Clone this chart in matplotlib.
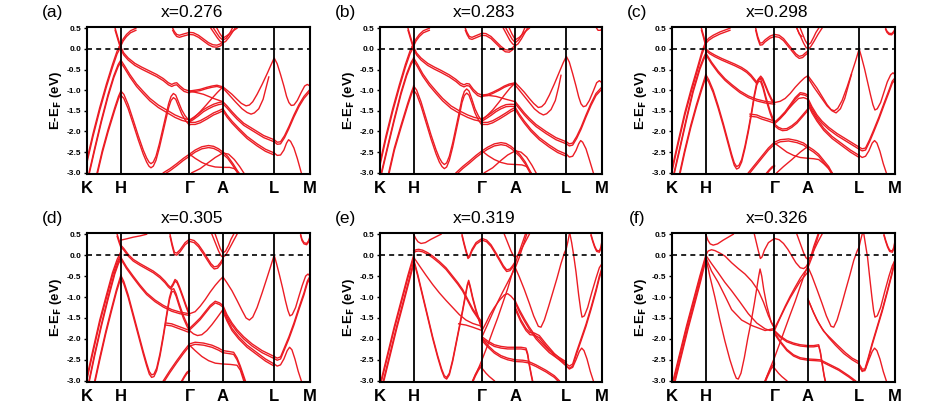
import matplotlib
matplotlib.use("Agg")
import matplotlib.pyplot as plt

plt.rcParams['font.family'] = ['Liberation Sans', 'DejaVu Sans']

# k-path positions (arbitrary path units) and labels
KPATH = [22, 123, 328, 428, 581, 688]
KLABELS = ["K", "H", "Γ", "A", "L", "M"]
TITLES = ["x=0.276", "x=0.283", "x=0.298", "x=0.305", "x=0.319", "x=0.326"]
LETTERS = ["(a)", "(b)", "(c)", "(d)", "(e)", "(f)"]
YTICKS = [0.5, 0.0, -0.5, -1.0, -1.5, -2.0, -2.5, -3.0]

# bands: (splitting in eV, [(k, E), ...])
BANDS_A = [
    (0.07, [(22, -2.68), (40, -2.05), (60, -1.42), (80, -0.85), (98, -0.38), (112, -0.05), (123, 0.12)]),
    (0.05, [(118, 0.05), (123, 0.12), (130, 0.24), (140, 0.35), (152, 0.44), (168, 0.5)]),
    (0.05, [(106, 0.5), (114, 0.28), (123, 0.04), (132, -0.1), (145, -0.22), (165, -0.35), (185, -0.44), (205, -0.52),
            (230, -0.62), (250, -0.72), (265, -0.82), (275, -0.86), (283, -0.83), (290, -0.82), (300, -0.9), (312, -0.98), (328, -1.02)]),
    (0.05, [(28, -3.0), (45, -2.4), (65, -1.72), (85, -1.1), (102, -0.65), (115, -0.38), (123, -0.27)]),
    (0.06, [(123, -0.27), (135, -0.42), (150, -0.62), (170, -0.85), (190, -1.03), (210, -1.2), (235, -1.36), (260, -1.48),
            (285, -1.6), (305, -1.67), (328, -1.72)]),
    (0.06, [(52, -3.0), (68, -2.45), (85, -1.95), (105, -1.42), (116, -1.15), (123, -1.02)]),
    (0.1, [(123, -1.02), (132, -1.1), (145, -1.35), (160, -1.72), (175, -2.1), (190, -2.45), (200, -2.64), (207, -2.74),
           (213, -2.78), (220, -2.74), (228, -2.6), (238, -2.3), (248, -1.95), (258, -1.6), (266, -1.32), (273, -1.15),
           (280, -1.08), (287, -1.12), (295, -1.28), (305, -1.48), (315, -1.62), (328, -1.75)]),
    (0.05, [(278, 0.5), (283, 0.42), (290, 0.35), (298, 0.33), (310, 0.36), (328, 0.4), (340, 0.39), (355, 0.33),
            (370, 0.24), (385, 0.15), (398, 0.1), (410, 0.09), (420, 0.12), (428, 0.17)]),
    (0.0, [(392, 0.5), (402, 0.38), (412, 0.26), (420, 0.18), (428, 0.15), (436, 0.18), (446, 0.28), (456, 0.4), (464, 0.5)]),
    (0.0, [(400, 0.5), (408, 0.4), (418, 0.28), (428, 0.21), (438, 0.26), (447, 0.36), (456, 0.5)]),
    (0.0, [(410, 0.5), (418, 0.38), (428, 0.26), (440, 0.32), (455, 0.42), (470, 0.5)]),
    (0.03, [(328, -1.02), (345, -1.0), (360, -0.98), (380, -0.93), (395, -0.9), (410, -0.88), (428, -0.92)]),
    (0.0, [(328, -1.02), (350, -1.06), (370, -1.1), (400, -1.2), (428, -1.28)]),
    (0.05, [(328, -1.72), (340, -1.66), (355, -1.57), (370, -1.47), (385, -1.4), (400, -1.34), (415, -1.3), (428, -1.28)]),
    (0.0, [(328, -1.75), (345, -1.64), (360, -1.52), (378, -1.36), (395, -1.2), (412, -1.05), (428, -0.92)]),
    (0.05, [(328, -1.78), (345, -1.78), (360, -1.74), (380, -1.65), (400, -1.55), (415, -1.5), (428, -1.45)]),
    (0.0, [(428, -0.92), (440, -1.0), (455, -1.1), (470, -1.22), (483, -1.32), (497, -1.38), (507, -1.36), (517, -1.28),
           (530, -1.1), (545, -0.86), (560, -0.6), (572, -0.38), (581, -0.22), (590, -0.36), (600, -0.62), (610, -0.9),
           (618, -1.15), (625, -1.3), (632, -1.37), (640, -1.36), (650, -1.25), (662, -1.05), (672, -0.9), (680, -0.86), (688, -0.9)]),
    (0.0, [(428, -0.95), (445, -1.1), (465, -1.28), (485, -1.45), (500, -1.54), (512, -1.58), (522, -1.55), (535, -1.45),
           (548, -1.22), (558, -0.9), (565, -0.68)]),
    (0.05, [(428, -1.28), (440, -1.38), (455, -1.52), (470, -1.65), (490, -1.8), (520, -1.95), (550, -2.1), (581, -2.2)]),
    (0.05, [(428, -1.45), (440, -1.6), (455, -1.75), (475, -1.92), (500, -2.12), (530, -2.3), (555, -2.43), (581, -2.52)]),
    (0.05, [(581, -2.2), (590, -2.26), (600, -2.25), (612, -2.1), (625, -1.88), (640, -1.6), (655, -1.35), (670, -1.15),
            (688, -0.98)]),
    (0.0, [(581, -2.52), (590, -2.58), (600, -2.57), (610, -2.45), (618, -2.28), (624, -2.2), (630, -2.24), (640, -2.4),
           (650, -2.65), (662, -3.0)]),
    (0.05, [(250, -3.0), (270, -2.9), (290, -2.78), (310, -2.65), (328, -2.55), (345, -2.45), (365, -2.37), (385, -2.34),
            (400, -2.36), (415, -2.42), (428, -2.5), (442, -2.6), (458, -2.78), (475, -3.0)]),
    (0.0, [(328, -2.55), (345, -2.65), (365, -2.75), (385, -2.82), (405, -2.86), (428, -2.87), (448, -2.87), (462, -2.9),
           (475, -3.0)]),
    (0.0, [(335, -3.0), (360, -2.9), (385, -2.75), (405, -2.63), (428, -2.52), (445, -2.55), (462, -2.68), (478, -2.85),
           (490, -3.0)]),
]

BANDS_B = [
    (0.07, [(22, -2.75), (40, -2.1), (60, -1.45), (80, -0.87), (98, -0.38), (112, -0.05), (123, 0.12)]),
    (0.05, [(118, 0.05), (123, 0.12), (130, 0.24), (140, 0.35), (152, 0.44), (170, 0.5)]),
    (0.05, [(106, 0.5), (114, 0.28), (123, 0.04), (132, -0.1), (145, -0.22), (165, -0.35), (185, -0.44), (205, -0.52),
            (230, -0.63), (250, -0.74), (263, -0.83), (274, -0.87), (282, -0.84), (290, -0.85), (302, -0.98), (315, -1.08),
            (328, -1.12)]),
    (0.05, [(26, -3.0), (45, -2.35), (65, -1.68), (85, -1.05), (102, -0.6), (115, -0.33), (123, -0.22)]),
    (0.06, [(123, -0.22), (135, -0.38), (150, -0.6), (170, -0.83), (190, -1.02), (210, -1.2), (235, -1.38), (260, -1.5),
            (285, -1.6), (305, -1.66), (328, -1.7)]),
    (0.06, [(48, -3.0), (65, -2.4), (85, -1.85), (105, -1.32), (116, -1.05), (123, -0.9)]),
    (0.1, [(123, -0.9), (132, -1.0), (145, -1.28), (160, -1.68), (175, -2.08), (190, -2.44), (200, -2.64), (208, -2.75),
           (215, -2.8), (222, -2.76), (230, -2.6), (240, -2.28), (250, -1.9), (260, -1.52), (268, -1.2), (275, -1.03),
           (282, -0.97), (289, -1.02), (297, -1.2), (307, -1.45), (317, -1.62), (328, -1.75)]),
    (0.05, [(278, 0.5), (283, 0.4), (290, 0.3), (298, 0.28), (310, 0.32), (328, 0.38), (340, 0.37), (355, 0.3),
            (370, 0.18), (385, 0.06), (398, -0.02), (410, -0.03), (420, 0.03), (428, 0.1)]),
    (0.0, [(392, 0.5), (402, 0.35), (412, 0.2), (420, 0.12), (428, 0.08), (436, 0.12), (446, 0.24), (456, 0.38), (464, 0.5)]),
    (0.0, [(400, 0.5), (408, 0.38), (418, 0.24), (428, 0.15), (438, 0.22), (447, 0.33), (456, 0.5)]),
    (0.0, [(410, 0.5), (418, 0.36), (428, 0.22), (440, 0.28), (455, 0.4), (470, 0.5)]),
    (0.03, [(328, -1.12), (345, -1.1), (360, -1.05), (380, -0.97), (395, -0.9), (410, -0.85), (428, -0.82)]),
    (0.0, [(328, -1.12), (350, -1.13), (370, -1.15), (400, -1.22), (428, -1.28)]),
    (0.05, [(328, -1.7), (340, -1.64), (355, -1.56), (370, -1.47), (385, -1.4), (400, -1.35), (415, -1.34), (428, -1.35)]),
    (0.0, [(328, -1.72), (345, -1.6), (360, -1.48), (378, -1.3), (395, -1.12), (412, -0.95), (428, -0.82)]),
    (0.05, [(328, -1.78), (345, -1.78), (360, -1.74), (380, -1.65), (400, -1.55), (415, -1.47), (428, -1.42)]),
    (0.0, [(428, -0.82), (440, -0.92), (455, -1.05), (470, -1.2), (483, -1.32), (497, -1.42), (507, -1.4), (517, -1.32),
           (530, -1.12), (545, -0.85), (560, -0.56), (572, -0.33), (581, -0.18), (590, -0.32), (600, -0.6), (610, -0.9),
           (618, -1.16), (625, -1.33), (632, -1.4), (640, -1.38), (650, -1.25), (662, -1.02), (672, -0.82), (680, -0.77), (688, -0.82)]),
    (0.0, [(428, -0.88), (445, -1.05), (465, -1.25), (485, -1.45), (500, -1.55), (512, -1.6), (522, -1.57), (535, -1.47),
           (548, -1.25), (558, -0.92), (565, -0.64)]),
    (0.05, [(428, -1.28), (440, -1.4), (455, -1.55), (470, -1.68), (490, -1.83), (520, -2.0), (550, -2.15), (581, -2.25)]),
    (0.05, [(428, -1.42), (440, -1.58), (455, -1.75), (475, -1.95), (500, -2.15), (530, -2.33), (555, -2.46), (581, -2.55)]),
    (0.05, [(581, -2.25), (590, -2.3), (600, -2.28), (612, -2.12), (625, -1.9), (640, -1.6), (655, -1.32), (670, -1.08),
            (688, -0.92)]),
    (0.0, [(581, -2.55), (590, -2.62), (600, -2.6), (610, -2.46), (618, -2.3), (624, -2.22), (630, -2.26), (640, -2.42),
           (650, -2.68), (662, -3.0)]),
    (0.0, [(672, 0.5), (676, 0.45), (684, 0.45), (688, 0.5)]),
    (0.05, [(250, -3.0), (270, -2.85), (290, -2.72), (310, -2.58), (328, -2.47), (345, -2.38), (365, -2.3), (385, -2.27),
            (400, -2.29), (415, -2.36), (428, -2.45), (442, -2.56), (458, -2.74), (475, -3.0)]),
    (0.0, [(328, -2.47), (345, -2.58), (365, -2.68), (385, -2.75), (405, -2.79), (428, -2.8), (448, -2.81), (462, -2.85),
           (475, -3.0)]),
    (0.0, [(335, -3.0), (360, -2.88), (385, -2.7), (405, -2.57), (428, -2.47), (445, -2.5), (462, -2.62), (478, -2.82),
           (490, -3.0)]),
]

BANDS_C = [
    (0.07, [(22, -2.9), (40, -2.25), (60, -1.55), (80, -0.95), (98, -0.45), (112, -0.05), (123, 0.18)]),
    (0.05, [(123, 0.18), (132, 0.26), (145, 0.33), (165, 0.41), (195, 0.5)]),
    (0.05, [(110, 0.5), (117, 0.3), (123, 0.1)]),
    (0.04, [(123, 0.0), (135, -0.08), (150, -0.15), (170, -0.23), (190, -0.3), (210, -0.37), (230, -0.45), (245, -0.53),
            (258, -0.63), (268, -0.73), (275, -0.8), (281, -0.72), (287, -0.66), (293, -0.72), (300, -0.85), (310, -1.05),
            (320, -1.22), (328, -1.3)]),
    (0.05, [(28, -3.0), (45, -2.4), (65, -1.68), (85, -1.0), (105, -0.45), (116, -0.22), (123, -0.1)]),
    (0.04, [(123, -0.1), (140, -0.32), (160, -0.54), (180, -0.72), (200, -0.86), (225, -1.02), (250, -1.14), (275, -1.22),
            (300, -1.27), (328, -1.3)]),
    (0.06, [(45, -3.0), (60, -2.45), (78, -1.85), (95, -1.35), (110, -0.95), (123, -0.62)]),
    (0.06, [(123, -0.62), (132, -0.75), (145, -1.0), (160, -1.38), (175, -1.8), (190, -2.25), (200, -2.55), (208, -2.76),
            (215, -2.85), (222, -2.82), (230, -2.68), (240, -2.35), (250, -1.95), (260, -1.5), (268, -1.1), (275, -0.82),
            (281, -0.72), (287, -0.74), (294, -0.9), (303, -1.18), (315, -1.5), (328, -1.78)]),
    (0.05, [(255, -1.58), (275, -1.6), (290, -1.65), (310, -1.7), (328, -1.75)]),
    (0.05, [(272, 0.5), (278, 0.3), (285, 0.14), (292, 0.15), (300, 0.22), (315, 0.31), (328, 0.35), (342, 0.33),
            (355, 0.25), (368, 0.12), (380, 0.0), (392, -0.12), (402, -0.18), (412, -0.16), (420, -0.1), (428, -0.05)]),
    (0.0, [(395, 0.5), (405, 0.32), (415, 0.14), (422, 0.04), (428, 0.0), (436, 0.05), (446, 0.18), (458, 0.35), (470, 0.5)]),
    (0.0, [(405, 0.5), (412, 0.36), (420, 0.2), (428, 0.1), (436, 0.14), (445, 0.28), (452, 0.4), (460, 0.5)]),
    (0.0, [(395, 0.5), (402, 0.36), (410, 0.3)]),
    (0.0, [(328, -1.3), (345, -1.27), (360, -1.2), (375, -1.08), (390, -0.93), (405, -0.8), (418, -0.7), (428, -0.65)]),
    (0.04, [(328, -1.78), (345, -1.65), (360, -1.52), (375, -1.35), (390, -1.18), (405, -1.06), (418, -1.08), (428, -1.12)]),
    (0.0, [(328, -1.78), (345, -1.68), (365, -1.5), (385, -1.32), (400, -1.2), (415, -1.18), (428, -1.22)]),
    (0.04, [(328, -1.82), (340, -1.9), (352, -1.94), (365, -1.93), (380, -1.86), (395, -1.76), (410, -1.62), (428, -1.45)]),
    (0.0, [(428, -0.65), (440, -0.78), (455, -0.95), (470, -1.15), (485, -1.35), (497, -1.47), (507, -1.5), (517, -1.44),
           (530, -1.25), (545, -0.92), (558, -0.6), (570, -0.3), (581, 0.0), (588, -0.2), (597, -0.48), (606, -0.8),
           (615, -1.12), (622, -1.35), (628, -1.48), (635, -1.45), (645, -1.3), (655, -1.05), (665, -0.8), (675, -0.63),
           (682, -0.58), (688, -0.62)]),
    (0.0, [(428, -0.7), (445, -0.92), (465, -1.15), (485, -1.38), (500, -1.5), (512, -1.55), (525, -1.45), (538, -1.2),
           (550, -0.85), (558, -0.62)]),
    (0.05, [(428, -1.2), (440, -1.4), (455, -1.6), (470, -1.75), (490, -1.9), (515, -2.05), (545, -2.2), (581, -2.38)]),
    (0.05, [(428, -1.3), (440, -1.5), (455, -1.7), (475, -1.92), (500, -2.12), (530, -2.3), (555, -2.45), (581, -2.58)]),
    (0.05, [(581, -2.38), (590, -2.42), (600, -2.4), (612, -2.2), (625, -1.95), (640, -1.65), (655, -1.32), (670, -1.0),
            (680, -0.78), (688, -0.7)]),
    (0.0, [(581, -2.58), (590, -2.63), (600, -2.6), (610, -2.47), (620, -2.28), (627, -2.22), (634, -2.28), (643, -2.48),
           (653, -2.78), (662, -3.0)]),
    (0.03, [(660, 0.5), (664, 0.43), (670, 0.38), (678, 0.37), (684, 0.42), (688, 0.48)]),
    (0.05, [(250, -3.0), (270, -2.8), (290, -2.6), (310, -2.4), (328, -2.26), (345, -2.2), (370, -2.18), (395, -2.22),
            (415, -2.28), (428, -2.36), (445, -2.45), (460, -2.55), (475, -2.7), (490, -2.85), (500, -3.0)]),
    (0.0, [(328, -2.28), (345, -2.38), (365, -2.5), (385, -2.58), (405, -2.63), (428, -2.65), (445, -2.66), (460, -2.68),
           (475, -2.78), (490, -2.9), (500, -3.0)]),
    (0.0, [(335, -3.0), (355, -2.85), (380, -2.68), (405, -2.5), (428, -2.36)]),
    (0.03, [(305, -3.0), (312, -2.93), (320, -2.86), (328, -2.82)]),
]

BANDS_D = [
    (0.07, [(22, -2.9), (40, -2.25), (60, -1.55), (80, -0.95), (98, -0.42), (112, -0.1), (123, 0.08)]),
    (0.0, [(123, 0.36), (140, 0.39), (160, 0.43), (180, 0.46), (200, 0.5)]),
    (0.05, [(112, 0.5), (118, 0.35), (123, 0.24)]),
    (0.04, [(123, 0.24), (132, 0.16), (145, 0.02), (160, -0.1), (180, -0.2), (200, -0.29), (220, -0.38), (240, -0.5),
            (255, -0.62), (265, -0.72), (272, -0.77), (279, -0.68), (285, -0.58), (291, -0.62), (298, -0.75), (308, -0.97),
            (318, -1.2), (328, -1.4)]),
    (0.05, [(28, -3.0), (45, -2.35), (65, -1.65), (85, -1.0), (105, -0.4), (116, -0.15), (123, -0.05)]),
    (0.04, [(123, -0.05), (140, -0.28), (160, -0.5), (180, -0.71), (200, -0.9), (225, -1.07), (250, -1.2), (275, -1.3),
            (300, -1.36), (328, -1.4)]),
    (0.06, [(45, -3.0), (60, -2.45), (78, -1.82), (95, -1.28), (110, -0.82), (123, -0.48)]),
    (0.06, [(123, -0.48), (132, -0.63), (145, -0.95), (160, -1.4), (175, -1.85), (190, -2.3), (200, -2.58), (208, -2.78),
            (215, -2.86), (222, -2.84), (230, -2.7), (240, -2.35), (250, -1.9), (260, -1.4), (268, -1.02), (275, -0.82),
            (281, -0.8), (288, -0.92), (297, -1.15), (310, -1.45), (320, -1.63), (328, -1.75)]),
    (0.05, [(258, -1.62), (275, -1.64), (295, -1.7), (312, -1.75), (328, -1.8)]),
    (0.05, [(270, 0.5), (276, 0.28), (283, 0.07), (290, 0.05), (300, 0.13), (315, 0.3), (328, 0.38), (342, 0.35),
            (355, 0.25), (368, 0.1), (380, -0.05), (392, -0.2), (402, -0.28), (412, -0.26), (420, -0.18), (428, -0.08)]),
    (0.0, [(395, 0.5), (405, 0.3), (415, 0.1), (422, -0.01), (428, -0.05), (436, 0.0), (446, 0.14), (458, 0.32), (470, 0.5)]),
    (0.0, [(405, 0.5), (412, 0.34), (420, 0.16), (428, 0.05), (436, 0.1), (445, 0.24), (452, 0.38), (460, 0.5)]),
    (0.0, [(328, -1.4), (345, -1.35), (360, -1.22), (375, -1.06), (390, -0.88), (405, -0.72), (418, -0.6), (428, -0.52)]),
    (0.04, [(328, -1.75), (345, -1.62), (360, -1.5), (375, -1.35), (390, -1.2), (405, -1.1), (418, -1.14), (428, -1.2)]),
    (0.0, [(328, -1.8), (340, -1.88), (352, -1.92), (365, -1.9), (380, -1.8), (395, -1.66), (410, -1.5), (428, -1.3)]),
    (0.0, [(428, -0.52), (440, -0.66), (455, -0.85), (470, -1.08), (485, -1.32), (497, -1.5), (507, -1.55), (517, -1.48),
           (530, -1.25), (545, -0.9), (558, -0.58), (570, -0.28), (581, 0.0), (588, -0.2), (597, -0.48), (606, -0.78),
           (615, -1.1), (622, -1.32), (628, -1.45), (635, -1.42), (645, -1.25), (655, -0.98), (665, -0.72), (675, -0.5),
           (682, -0.45), (688, -0.5)]),
    (0.05, [(428, -1.2), (440, -1.42), (455, -1.62), (470, -1.78), (490, -1.95), (515, -2.12), (545, -2.28), (581, -2.42)]),
    (0.05, [(428, -1.3), (440, -1.52), (455, -1.75), (475, -1.95), (500, -2.15), (530, -2.33), (555, -2.48), (581, -2.6)]),
    (0.05, [(581, -2.42), (590, -2.46), (600, -2.43), (612, -2.2), (625, -1.95), (640, -1.62), (655, -1.25), (670, -0.9),
            (680, -0.62), (688, -0.5)]),
    (0.0, [(581, -2.6), (590, -2.65), (600, -2.62), (610, -2.48), (620, -2.28), (627, -2.2), (634, -2.26), (643, -2.48),
           (653, -2.78), (662, -3.0)]),
    (0.03, [(660, 0.5), (664, 0.38), (670, 0.3), (678, 0.28), (684, 0.35), (688, 0.45)]),
    (0.05, [(250, -3.0), (270, -2.75), (290, -2.52), (310, -2.3), (328, -2.12), (345, -2.08), (370, -2.1), (395, -2.15),
            (415, -2.22), (428, -2.28), (445, -2.3), (460, -2.32), (470, -2.45), (480, -2.65), (495, -3.0)]),
    (0.0, [(328, -2.15), (345, -2.28), (365, -2.42), (385, -2.52), (405, -2.58), (428, -2.6), (450, -2.61), (470, -2.63),
           (480, -2.75), (490, -3.0)]),
    (0.03, [(305, -3.0), (312, -2.9), (320, -2.8), (328, -2.75)]),
]

BANDS_E = [
    (0.06, [(25, -3.0), (45, -2.35), (65, -1.7), (85, -1.1), (105, -0.5), (123, 0.0)]),
    (0.06, [(32, -3.0), (52, -2.35), (72, -1.7), (92, -1.1), (110, -0.55), (123, -0.15)]),
    (0.0, [(123, 0.5), (129, 0.4), (136, 0.32), (145, 0.28), (158, 0.3), (175, 0.38), (190, 0.44), (205, 0.5)]),
    (0.04, [(123, 0.1), (130, 0.13), (138, 0.14), (150, 0.12), (165, 0.06), (180, -0.02), (200, -0.15), (220, -0.3),
            (240, -0.5), (255, -0.65), (270, -0.82), (285, -1.05), (300, -1.28), (315, -1.46), (328, -1.6)]),
    (0.0, [(123, -0.05), (140, -0.25), (160, -0.48), (180, -0.7), (200, -0.9), (220, -1.08), (240, -1.25), (260, -1.42),
           (280, -1.55), (300, -1.63), (328, -1.7)]),
    (0.04, [(123, -0.1), (135, -0.45), (150, -0.95), (165, -1.45), (180, -1.95), (195, -2.4), (207, -2.72), (215, -2.88),
            (222, -2.92), (230, -2.82), (240, -2.5), (250, -2.1), (260, -1.7), (270, -1.3), (278, -0.95), (284, -0.7),
            (288, -0.6), (293, -0.75), (300, -1.0), (310, -1.3), (320, -1.55), (328, -1.75)]),
    (0.0, [(258, -1.64), (280, -1.67), (300, -1.72), (328, -1.8)]),
    (0.04, [(268, 0.5), (274, 0.3), (280, 0.12), (286, -0.04), (291, 0.0), (298, 0.14), (310, 0.3), (328, 0.4), (342, 0.36),
            (355, 0.25), (368, 0.08), (380, -0.08), (392, -0.25), (402, -0.35), (412, -0.33), (420, -0.25), (428, -0.15)]),
    (0.0, [(395, 0.5), (405, 0.3), (415, 0.1), (422, -0.01), (428, -0.05), (436, 0.0), (446, 0.14), (458, 0.32), (470, 0.5)]),
    (0.0, [(300, -3.0), (315, -2.75), (328, -2.5), (345, -2.15), (360, -1.82), (375, -1.5), (390, -1.15), (405, -0.8),
           (418, -0.45), (428, -0.2), (436, 0.0), (445, 0.2), (452, 0.36), (458, 0.5)]),
    (0.0, [(328, -1.95), (345, -1.65), (360, -1.38), (375, -1.12), (390, -0.88), (405, -0.65), (418, -0.45), (428, -0.3),
           (440, -0.05), (450, 0.2), (456, 0.35), (462, 0.5)]),
    (0.0, [(328, -1.8), (340, -1.62), (352, -1.42), (365, -1.25), (380, -1.08), (395, -0.95), (405, -0.92), (415, -0.98),
           (428, -1.1)]),
    (0.0, [(428, -0.3), (440, -0.52), (455, -0.82), (470, -1.15), (483, -1.45), (497, -1.7), (505, -1.72), (515, -1.55),
           (528, -1.22), (540, -0.9), (553, -0.55), (565, -0.2), (575, 0.05), (581, 0.16), (585, 0.3), (590, 0.5)]),
    (0.0, [(592, 0.5), (597, 0.3), (603, 0.0), (610, -0.4), (618, -0.95), (624, -1.3), (628, -1.48), (635, -1.45),
           (645, -1.25), (657, -0.9), (670, -0.55), (680, -0.3), (688, -0.2)]),
    (0.04, [(328, -1.95), (345, -2.05), (365, -2.14), (385, -2.18), (405, -2.2), (428, -2.2), (445, -2.2), (460, -2.22),
            (465, -2.35), (470, -2.6), (476, -2.85), (480, -3.0)]),
    (0.04, [(328, -2.0), (345, -2.15), (365, -2.3), (385, -2.4), (405, -2.46), (428, -2.5), (450, -2.51), (465, -2.53),
            (490, -2.62), (520, -2.75), (545, -2.88), (560, -3.0)]),
    (0.05, [(428, -1.1), (440, -1.3), (455, -1.52), (470, -1.72), (490, -1.95), (510, -2.12), (530, -2.28), (555, -2.42),
            (581, -2.55)]),
    (0.05, [(428, -1.25), (445, -1.55), (460, -1.75), (472, -1.85), (485, -1.86), (500, -1.92), (520, -2.12), (545, -2.35),
            (581, -2.6)]),
    (0.05, [(581, -2.6), (590, -2.65), (600, -2.6), (612, -2.3), (625, -2.0), (640, -1.65), (655, -1.25), (670, -0.82),
            (680, -0.5), (688, -0.3)]),
    (0.0, [(581, -2.65), (590, -2.72), (600, -2.68), (610, -2.5), (620, -2.3), (627, -2.22), (634, -2.28), (643, -2.48),
           (653, -2.78), (662, -3.0)]),
    (0.03, [(655, 0.5), (660, 0.36), (666, 0.22), (672, 0.12), (680, 0.1), (685, 0.2), (688, 0.35)]),
    (0.04, [(300, -3.0), (308, -2.85), (318, -2.7), (328, -2.6)]),
    (0.0, [(328, -2.7), (340, -2.82), (350, -2.9), (365, -3.0)]),
]

BANDS_F = [
    (0.06, [(25, -3.0), (45, -2.35), (65, -1.7), (85, -1.1), (105, -0.5), (123, 0.0)]),
    (0.06, [(30, -3.0), (50, -2.35), (70, -1.7), (90, -1.1), (108, -0.55), (123, -0.05)]),
    (0.0, [(123, 0.5), (129, 0.36), (136, 0.27), (145, 0.24), (158, 0.27), (175, 0.36), (190, 0.43), (205, 0.5)]),
    (0.0, [(123, 0.0), (130, 0.1), (140, 0.13), (150, 0.11), (165, 0.05), (180, -0.02), (200, -0.18), (220, -0.32),
           (240, -0.45), (260, -0.62), (280, -0.85), (295, -1.12), (310, -1.45), (320, -1.62), (328, -1.72)]),
    (0.0, [(123, 0.0), (140, -0.2), (160, -0.42), (180, -0.65), (200, -0.85), (225, -1.12), (250, -1.4), (275, -1.62),
           (300, -1.76), (315, -1.8), (328, -1.78)]),
    (0.0, [(123, -0.05), (140, -0.38), (160, -0.65), (180, -0.97), (200, -1.3), (230, -1.55), (260, -1.68), (300, -1.8),
           (328, -1.75)]),
    (0.0, [(123, -0.05), (135, -0.5), (150, -1.0), (165, -1.55), (180, -2.05), (195, -2.5), (207, -2.8), (214, -2.94),
           (220, -2.96), (228, -2.82), (238, -2.45), (248, -2.0), (258, -1.6), (268, -1.15), (276, -0.75), (281, -0.5),
           (285, -0.33), (290, -0.5), (296, -0.82), (305, -1.2), (318, -1.6), (328, -1.75)]),
    (0.0, [(268, 0.5), (274, 0.3), (280, 0.1), (286, -0.08), (291, -0.04), (298, 0.12), (310, 0.3), (328, 0.4), (342, 0.37),
           (355, 0.28), (368, 0.14), (380, -0.02), (392, -0.18), (405, -0.3), (415, -0.32), (422, -0.28), (428, -0.2)]),
    (0.0, [(395, 0.5), (405, 0.28), (415, 0.06), (422, -0.06), (428, -0.1), (436, -0.04), (446, 0.12), (458, 0.32), (470, 0.5)]),
    (0.0, [(300, -3.0), (315, -2.7), (328, -2.45), (345, -2.08), (360, -1.75), (375, -1.42), (390, -1.1), (405, -0.75),
           (418, -0.45), (428, -0.25), (436, -0.05), (445, 0.2), (452, 0.36), (458, 0.5)]),
    (0.0, [(328, -1.75), (345, -1.48), (360, -1.22), (375, -0.98), (390, -0.76), (405, -0.55), (418, -0.4), (428, -0.3),
           (440, -0.05), (448, 0.2), (455, 0.36), (460, 0.5)]),
    (0.0, [(328, -1.8), (345, -1.5), (360, -1.25), (375, -1.02), (390, -0.82), (405, -0.62), (418, -0.5), (428, -0.4)]),
    (0.0, [(428, -0.28), (440, -0.5), (455, -0.82), (470, -1.15), (483, -1.45), (497, -1.7), (505, -1.72), (515, -1.55),
           (528, -1.2), (540, -0.85), (553, -0.48), (565, -0.12), (575, 0.1), (581, 0.2), (585, 0.35), (590, 0.5)]),
    (0.0, [(595, 0.5), (600, 0.25), (606, -0.05), (612, -0.5), (619, -1.0), (624, -1.32), (628, -1.48), (635, -1.45),
           (645, -1.25), (657, -0.88), (670, -0.5), (680, -0.25), (688, -0.12)]),
    (0.03, [(328, -1.8), (345, -1.93), (365, -2.04), (385, -2.1), (405, -2.14), (428, -2.16), (445, -2.16), (460, -2.14),
            (465, -2.3), (470, -2.55), (476, -2.85), (480, -3.0)]),
    (0.03, [(328, -1.85), (345, -2.05), (365, -2.25), (385, -2.38), (405, -2.45), (428, -2.48), (450, -2.49), (465, -2.5),
            (490, -2.6), (520, -2.72), (550, -2.88), (570, -3.0)]),
    (0.0, [(428, -1.05), (440, -1.28), (455, -1.55), (470, -1.75), (490, -1.97), (510, -2.15), (535, -2.35), (560, -2.5),
           (581, -2.6)]),
    (0.0, [(428, -1.05), (445, -1.38), (460, -1.62), (475, -1.82), (495, -1.98), (515, -2.14), (540, -2.33), (560, -2.46),
           (581, -2.55)]),
    (0.04, [(581, -2.6), (590, -2.72), (598, -2.72), (608, -2.45), (620, -2.1), (635, -1.7), (650, -1.3), (665, -0.85),
            (678, -0.45), (688, -0.1)]),
    (0.0, [(581, -2.65), (590, -2.78), (600, -2.72), (610, -2.5), (620, -2.3), (627, -2.22), (634, -2.28), (643, -2.48),
           (653, -2.78), (662, -3.0)]),
    (0.03, [(655, 0.5), (660, 0.36), (666, 0.22), (672, 0.12), (680, 0.1), (685, 0.2), (688, 0.35)]),
    (0.04, [(300, -3.0), (308, -2.85), (318, -2.68), (328, -2.58)]),
    (0.0, [(328, -2.7), (340, -2.82), (350, -2.9), (365, -3.0)]),
]

ALL_BANDS = [BANDS_A, BANDS_B, BANDS_C, BANDS_D, BANDS_E, BANDS_F]

W, H = 934, 415
fig = plt.figure(figsize=(W / 100, H / 100), dpi=100)

# axes boxes in pixels: (left, right) and (top, bottom)
col_x = [(87, 310), (380, 602), (672, 895)]
row_y = [(27, 174), (233, 382)]

for i, bands in enumerate(ALL_BANDS):
    r, c = divmod(i, 3)
    x0, x1 = col_x[c]
    y0, y1 = row_y[r]
    ax = fig.add_axes([x0 / W, 1 - y1 / H, (x1 - x0) / W, (y1 - y0) / H])

    for split, pts in bands:
        ks = [p[0] for p in pts]
        es = [p[1] for p in pts]
        ax.plot(ks, es, color='#ec1c24', lw=1.0, solid_joinstyle='round')
        if split > 0:
            ax.plot(ks, [e - split for e in es], color='#ec1c24', lw=1.0, solid_joinstyle='round')

    for kp in KPATH[1:-1]:
        ax.axvline(kp, color='black', lw=1.3)
    ax.axhline(0, color='black', lw=1.2, ls=(0, (3, 2.5)))

    ax.set_xlim(KPATH[0], KPATH[-1])
    ax.set_ylim(-3.03, 0.53)
    ax.set_xticks(KPATH)
    ax.set_xticklabels(KLABELS, fontsize=12, fontweight='bold')
    ax.set_yticks(YTICKS)
    ax.set_yticklabels([f"{t:.1f}" for t in YTICKS], fontsize=6, fontweight='bold')
    ax.tick_params(axis='x', length=0, pad=5)
    ax.tick_params(axis='y', length=2.5, width=1, pad=1.5, direction='out')
    for s in ax.spines.values():
        s.set_linewidth(1.5)
    ax.set_ylabel(r"E-E$_\mathbf{F}$ (eV)", fontsize=9.5, fontweight='bold', labelpad=2)
    ax.text(0.47, 1.10, TITLES[i], transform=ax.transAxes, ha='center', va='center', fontsize=12.5)
    ax.text(-0.155, 1.10, LETTERS[i], transform=ax.transAxes, ha='center', va='center', fontsize=12.5)

fig.savefig("out.png", dpi=100)
